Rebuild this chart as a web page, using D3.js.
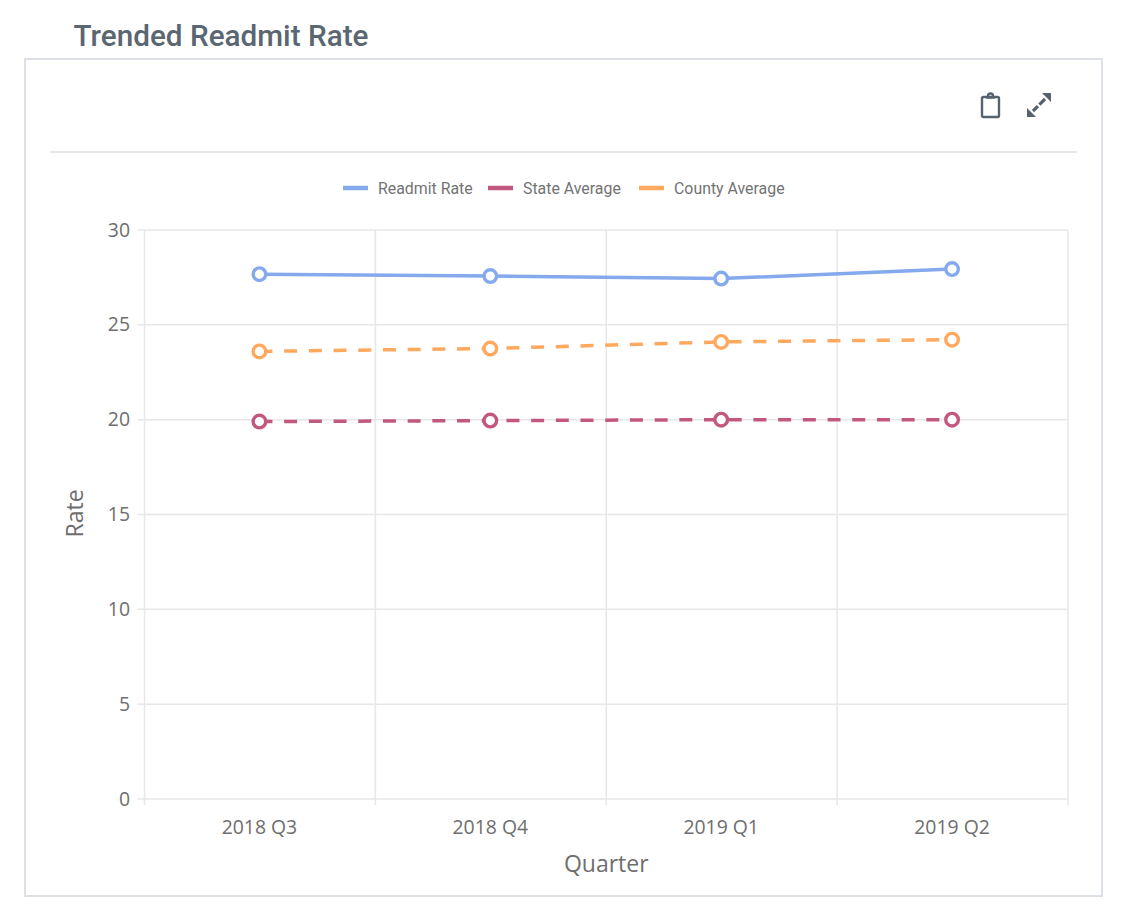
<!DOCTYPE html>
<html lang="en">

<head>
    <meta charset="UTF-8">
    <title>Trended Readmit Rate</title>
    <style>
        html, body { margin: 0; padding: 0; background: #fff; }
        svg { display: block; }
    </style>
</head>

<body>

    <svg width="1125" height="922"></svg>

    <script src="https://d3js.org/d3.v7.min.js"></script>

    <script>
        var quarters = ["2018 Q3", "2018 Q4", "2019 Q1", "2019 Q2"];
        var readmitRate = [27.67, 27.57, 27.44, 27.94];
        var stateAverage = [19.9, 19.95, 20.0, 20.0];
        var countyAverage = [23.6, 23.75, 24.1, 24.22];
        var yTicks = [0, 5, 10, 15, 20, 25, 30];
        var seriesNames = ["Readmit Rate", "State Average", "County Average"];
        var seriesColors = ["#84a9ec", "#c2587f", "#ffa95f"];

        var svg = d3.select("svg");

        var left = 144.5, right = 1068, top_ = 230, bottom = 799;

        var x = d3.scaleBand().domain(quarters).range([left, right]);
        var y = d3.scaleLinear().domain([0, 30]).range([bottom, top_]);

        // points sit half a pixel left of the band centre in the original
        function cx(i) { return x(quarters[i]) + x.bandwidth() / 2 - 0.5; }

        // panel
        svg.append("rect")
            .attr("x", 25).attr("y", 59)
            .attr("width", 1077).attr("height", 837)
            .attr("fill", "#fff")
            .attr("stroke", "#dde0e6").attr("stroke-width", 2);

        svg.append("text")
            .attr("x", 73.5).attr("y", 46)
            .style("font-family", "Roboto").style("font-weight", 500).style("font-size", "29.7px")
            .attr("fill", "#5a6671")
            .text("Trended Readmit Rate");

        svg.append("line")
            .attr("x1", 50).attr("x2", 1077)
            .attr("y1", 152).attr("y2", 152)
            .attr("stroke", "#dcdfe3").attr("stroke-width", 1.5);

        // clipboard icon
        var icons = svg.append("g").attr("fill", "none").attr("stroke", "#56636f");
        icons.append("rect")
            .attr("x", 982).attr("y", 97)
            .attr("width", 17).attr("height", 20).attr("rx", 1.5)
            .attr("stroke-width", 2.4);
        icons.append("path")
            .attr("d", "M986 97.5 h9 M988 96 a2.5 2.5 0 0 1 5 0")
            .attr("stroke-width", 2.4);

        // expand icon
        icons.append("line")
            .attr("x1", 1033).attr("y1", 111)
            .attr("x2", 1045).attr("y2", 99)
            .attr("stroke-width", 3.2).attr("stroke-dasharray", "7 2 8");
        icons.append("path").attr("stroke", "none").attr("fill", "#56636f")
            .attr("d", "M1051 93 L1051 102 L1042 93 Z");
        icons.append("path").attr("stroke", "none").attr("fill", "#56636f")
            .attr("d", "M1027 117 L1027 108 L1036 117 Z");

        // grid
        var grid = svg.append("g").attr("stroke", "#e7e7ea").attr("stroke-width", 1.5);

        grid.selectAll(".h")
            .data(yTicks)
            .enter().append("line")
            .attr("x1", left - 7).attr("x2", right)
            .attr("y1", function (d) { return y(d); })
            .attr("y2", function (d) { return y(d); });

        var xEdges = quarters.map(function (d) { return x(d); }).concat([right]);

        grid.selectAll(".v")
            .data(xEdges)
            .enter().append("line")
            .attr("x1", function (d) { return d; })
            .attr("x2", function (d) { return d; })
            .attr("y1", top_).attr("y2", bottom + 6);

        // axis labels
        svg.selectAll(".ytick")
            .data(yTicks)
            .enter().append("text")
            .attr("x", 130)
            .attr("y", function (d) { return y(d) + 6.5; })
            .attr("text-anchor", "end")
            .style("font-family", "Open Sans").style("font-size", "19.4px")
            .attr("fill", "#6e6e6e")
            .text(function (d) { return d; });

        svg.selectAll(".xtick")
            .data(quarters)
            .enter().append("text")
            .attr("x", function (d, i) { return cx(i); })
            .attr("y", 834)
            .attr("text-anchor", "middle")
            .style("font-family", "Open Sans").style("font-size", "19.4px")
            .attr("fill", "#6e6e6e")
            .text(function (d) { return d; });

        svg.append("text")
            .attr("x", (left + right) / 2).attr("y", 872)
            .attr("text-anchor", "middle")
            .style("font-family", "Open Sans").style("font-size", "23px")
            .attr("fill", "#6e6e6e")
            .text("Quarter");

        svg.append("text")
            .attr("transform", "translate(83," + (y(15) - 1) + ") rotate(-90)")
            .attr("text-anchor", "middle")
            .style("font-family", "Open Sans").style("font-size", "23px")
            .attr("fill", "#6e6e6e")
            .text("Rate");

        // series
        var seriesValues = [readmitRate, stateAverage, countyAverage];
        var seriesDash = [null, "13 11.7", "13 11.7"];

        var line = d3.line()
            .x(function (d, i) { return cx(i); })
            .y(function (d) { return y(d); });

        seriesValues.forEach(function (values, s) {
            svg.append("path")
                .attr("d", line(values))
                .attr("fill", "none")
                .attr("stroke", seriesColors[s])
                .attr("stroke-width", 3.5)
                .attr("stroke-dasharray", seriesDash[s]);

            svg.selectAll(".pt" + s)
                .data(values)
                .enter().append("circle")
                .attr("cx", function (d, i) { return cx(i); })
                .attr("cy", function (d) { return y(d); })
                .attr("r", 6.3)
                .attr("fill", "#fff")
                .attr("stroke", seriesColors[s])
                .attr("stroke-width", 3.4);
        });

        // legend
        var legendX = [343, 488, 639];
        var legendScale = 0.935;
        var legend = svg.selectAll(".legend")
            .data(seriesNames)
            .enter().append("g")
            .attr("transform", function (d, i) { return "translate(" + legendX[i] + ",188)"; });

        legend.append("line")
            .attr("x1", 0).attr("x2", 25)
            .attr("stroke", function (d, i) { return seriesColors[i]; })
            .attr("stroke-width", 4.5);

        legend.append("text")
            .attr("x", 35 / legendScale).attr("y", 6)
            .style("font-family", "Roboto").style("font-size", "17px")
            .attr("transform", "scale(" + legendScale + ",1)")
            .attr("fill", "#737373")
            .text(function (d) { return d; });
    </script>

</body>

</html>
